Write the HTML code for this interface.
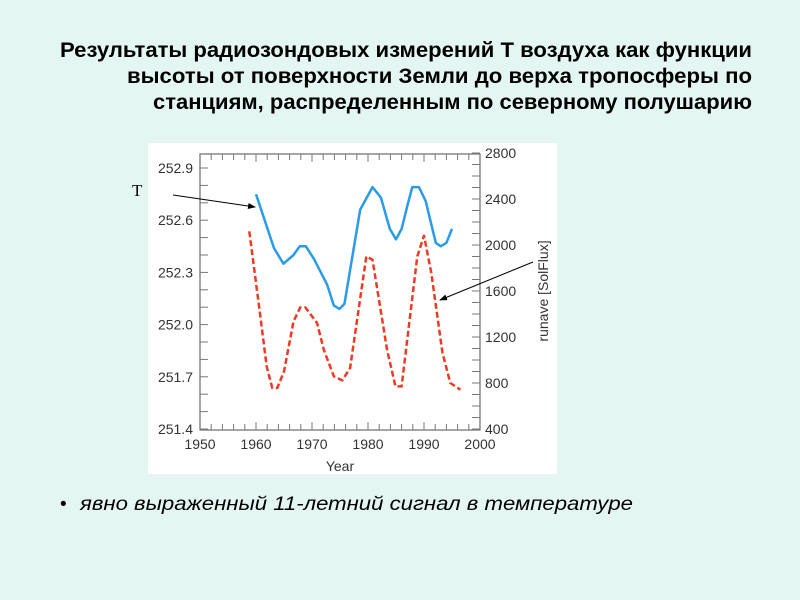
<!DOCTYPE html>
<html><head><meta charset="utf-8"><style>
html,body{margin:0;padding:0;background:#e4f6f2;}
svg{display:block}
</style></head><body>
<svg width="800" height="600" font-family="'Liberation Sans', sans-serif">
<rect width="800" height="600" fill="#e4f6f2"/>
<g font-weight="bold" font-size="21" fill="#000">
<text x="60" y="57" textLength="692" lengthAdjust="spacingAndGlyphs">Результаты радиозондовых измерений Т воздуха как функции</text>
<text x="127" y="83" textLength="625" lengthAdjust="spacingAndGlyphs">высоты от поверхности Земли до верха тропосферы по</text>
<text x="153" y="109" textLength="599" lengthAdjust="spacingAndGlyphs">станциям, распределенным по северному полушарию</text>
</g>
<rect x="148" y="143" width="409" height="331" fill="#fff"/>
<g id="chart"></g>
<text x="132" y="196" font-family="'Liberation Serif', serif" font-size="17">T</text>
<text x="60" y="510" font-size="19">•</text>
<text x="80" y="510" font-size="19" font-style="italic" textLength="553" lengthAdjust="spacingAndGlyphs">явно выраженный 11-летний сигнал в температуре</text>
</svg>
<script>
const years=[1960,1963.2,1964.9,1966.7,1967.8,1968.9,1970.3,1972.7,1973.9,1974.9,1975.8,1978.6,1980.8,1982.3,1983.9,1985,1986,1987,1987.9,1989.1,1990.3,1992.1,1993,1994,1995];
const tempVals=[252.75,252.44,252.35,252.40,252.45,252.45,252.38,252.23,252.11,252.09,252.12,252.66,252.79,252.73,252.55,252.49,252.55,252.68,252.79,252.79,252.71,252.47,252.45,252.47,252.55];
const solYears=[1958.8,1960.7,1961.9,1962.9,1963.8,1965,1966.7,1967.9,1968.8,1970.9,1972.1,1973.9,1975.4,1976.8,1979.7,1980.8,1983.4,1984.9,1986,1988.8,1990,1991.3,1993.3,1994.7,1996.5];
const solVals=[2119,1409,945,757,757,901,1336,1458,1458,1322,1090,858,823,930,1901,1872,1090,771,771,1901,2081,1757,1061,800,742];
const xTicks=[1950,1960,1970,1980,1990,2000];
const leftTicks=[251.4,251.7,252.0,252.3,252.6,252.9];
const rightTicks=[400,800,1200,1600,2000,2400,2800];
const NS='http://www.w3.org/2000/svg';
const g=document.getElementById('chart');
const L=200,R=480,T=154,B=430;
const xs=y=>L+(y-1950)/50*(R-L);
const yl=v=>429-(v-251.4)/1.5*(429-168);
const yr=v=>429-(v-400)/2400*(429-153);
function el(t,a){const e=document.createElementNS(NS,t);for(const k in a)e.setAttribute(k,a[k]);g.appendChild(e);return e;}
const ax='#777';
let e=el('rect',{x:L,y:T,width:R-L,height:B-T,fill:'none',stroke:ax,'stroke-width':1.3});


for(let y=1950;y<=2000;y+=2){const x=xs(y);const len=(y%10===0)?8:6;
el('line',{x1:x,y1:B,x2:x,y2:B-len,stroke:ax,'stroke-width':1});
el('line',{x1:x,y1:T,x2:x,y2:T+len,stroke:ax,'stroke-width':1});}
for(let v=251.4;v<=253.0;v+=0.1){const y=yl(v);if(y<T-1)continue;el('line',{x1:L,y1:y,x2:L+8,y2:y,stroke:ax,'stroke-width':1});}
for(let v=400;v<=2800;v+=100){const y=yr(v);el('line',{x1:R,y1:y,x2:R-8,y2:y,stroke:ax,'stroke-width':1});}
xTicks.forEach(t=>{const e=el('text',{x:xs(t),y:B+19,'text-anchor':'middle','font-size':14,fill:'#333'});e.textContent=t;

});
leftTicks.forEach(t=>{const e=el('text',{x:L-7,y:yl(t)+5,'text-anchor':'end','font-size':14,fill:'#333'});e.textContent=t.toFixed(1);

});
rightTicks.forEach(t=>{const e=el('text',{x:R+5,y:yr(t)+5,'font-size':14,fill:'#333'});e.textContent=t;

});
e=el('text',{x:340,y:471,'text-anchor':'middle','font-size':14,fill:'#333'});e.textContent='Year';


e=el('text',{x:0,y:0,'text-anchor':'middle','font-size':14,fill:'#333',transform:'translate(548,291) rotate(-90)'});e.textContent='runave [SolFlux]';


e=el('polyline',{points:years.map((y,i)=>xs(y)+','+yl(tempVals[i])).join(' '),fill:'none',stroke:'#2a9be8','stroke-width':2.5,'stroke-linejoin':'round'});


e=el('polyline',{points:solYears.map((y,i)=>xs(y)+','+yr(solVals[i])).join(' '),fill:'none',stroke:'#ee3a24','stroke-width':2.5,'stroke-dasharray':'6,3','stroke-linejoin':'round'});


const defs=document.createElementNS(NS,'defs');defs.innerHTML='<marker id="ah" markerWidth="8" markerHeight="6" refX="7" refY="3" orient="auto"><path d="M0,0 L8,3 L0,6 Z" fill="#000"/></marker>';g.appendChild(defs);
e=el('line',{x1:173,y1:195,x2:255,y2:207,stroke:'#000','stroke-width':1,'marker-end':'url(#ah)'});


e=el('line',{x1:533,y1:262,x2:440,y2:300,stroke:'#000','stroke-width':1,'marker-end':'url(#ah)'});


</script>
</body></html>
